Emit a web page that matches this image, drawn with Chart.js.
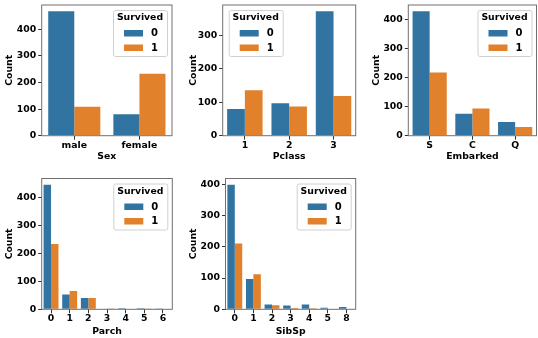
<!DOCTYPE html>
<html>
<head>
<meta charset="utf-8">
<script src="https://cdn.jsdelivr.net/npm/chart.js@4.4.1/dist/chart.umd.min.js"></script>
<style>
  html, body { margin: 0; padding: 0; background: #fff; }
  #wrap { position: relative; width: 538px; height: 338px; overflow: hidden; }
  canvas { position: absolute; }
</style>
</head>
<body>
<div id="wrap"></div>
<script>
// Titanic counts by feature, split by Survived (0 / 1)
const survivedLabels = ['0', '1'];

const sexCats = ['male', 'female'];
const sexDied = [468, 81];
const sexSurv = [109, 233];

const pclassCats = ['1', '2', '3'];
const pclassDied = [80, 97, 372];
const pclassSurv = [136, 87, 119];

const embarkedCats = ['S', 'C', 'Q'];
const embarkedDied = [427, 75, 47];
const embarkedSurv = [217, 93, 30];

const parchCats = ['0', '1', '2', '3', '4', '5', '6'];
const parchDied = [445, 53, 40, 2, 4, 4, 1];
const parchSurv = [233, 65, 40, 3, 0, 1, 0];

const sibspCats = ['0', '1', '2', '3', '4', '5', '8'];
const sibspDied = [398, 97, 15, 12, 15, 5, 7];
const sibspSurv = [210, 112, 13, 4, 3, 0, 0];

const yTicks = [0, 100, 200, 300, 400];

const BLUE = '#3274a1';
const ORANGE = '#e1812c';
const FONT = 'DejaVu Sans';
const FS = 9.3;

// canvas box [x, y, w, h], chart area [left, top, right, bottom], x of the "Count" title
const panels = [
    { title: 'Sex', cats: sexCats, died: sexDied, surv: sexSurv,
      box: [0, 0, 178, 162], area: [41.7, 5, 172, 135.7], countX: 10, legend: 'right' },
    { title: 'Pclass', cats: pclassCats, died: pclassDied, surv: pclassSurv,
      box: [182, 0, 180, 162], area: [222.7, 5, 355.7, 135.7], countX: 193.3, legend: 'left' },
    { title: 'Embarked', cats: embarkedCats, died: embarkedDied, surv: embarkedSurv,
      box: [366, 0, 172, 162], area: [408.3, 5, 536.5, 135.7], countX: 376.7, legend: 'right' },
    { title: 'Parch', cats: parchCats, died: parchDied, surv: parchSurv,
      box: [0, 170, 178, 167], area: [41.7, 178.5, 172.3, 309.3], countX: 10, legend: 'right' },
    { title: 'SibSp', cats: sibspCats, died: sibspDied, surv: sibspSurv,
      box: [182, 170, 180, 167], area: [225.5, 178.5, 355.7, 309.3], countX: 193.3, legend: 'right' }
];

const framePlugin = {
    id: 'frame',
    afterDatasetsDraw(chart) {
        const { ctx, chartArea: a } = chart;
        ctx.save();
        ctx.strokeStyle = '#707070';
        ctx.lineWidth = 1;
        ctx.strokeRect(a.left, a.top, a.right - a.left, a.bottom - a.top);
        ctx.restore();
    }
};

const legendPlugin = {
    id: 'boxLegend',
    afterDraw(chart, args, opts) {
        const { ctx, chartArea: a } = chart;
        const w = 54, h = 46;
        const x = opts.side === 'left' ? a.left + 6 : a.right - 5 - w;
        const y = a.top + 5;
        ctx.save();
        ctx.fillStyle = 'rgba(255,255,255,0.85)';
        ctx.strokeStyle = '#d0d0d0';
        ctx.lineWidth = 1;
        ctx.beginPath();
        ctx.roundRect(x + 0.5, y + 0.5, w, h, 2);
        ctx.fill();
        ctx.stroke();
        ctx.fillStyle = '#000';
        ctx.textBaseline = 'middle';
        ctx.font = 'bold ' + FS + 'px "' + FONT + '"';
        ctx.textAlign = 'center';
        ctx.fillText('Survived', x + w / 2, y + 8);
        const colors = [BLUE, ORANGE];
        survivedLabels.forEach((lab, i) => {
            const cy = y + 23 + i * 14.5;
            ctx.fillStyle = colors[i];
            ctx.fillRect(x + 11, cy - 3, 19, 6.5);
            ctx.fillStyle = '#000';
            ctx.textAlign = 'left';
            ctx.font = 'bold 10px "' + FONT + '"';
            ctx.fillText(lab, x + 38, cy + 0.5);
        });
        ctx.restore();
    }
};

const wrap = document.getElementById('wrap');

panels.forEach(p => {
    const [cx, cy, cw, ch] = p.box;
    const [L, T, R, B] = p.area;
    const canvas = document.createElement('canvas');
    canvas.style.left = cx + 'px';
    canvas.style.top = cy + 'px';
    canvas.style.width = cw + 'px';
    canvas.style.height = ch + 'px';
    canvas.width = cw;
    canvas.height = ch;
    wrap.appendChild(canvas);

    const halfLine = FS * 1.2 / 2;
    const padLeft = p.countX - cx - halfLine;
    const yMax = Math.max(...p.died, ...p.surv) * 1.05;
    const font = { family: FONT, size: FS, weight: 'bold', lineHeight: 1.2 };

    new Chart(canvas.getContext('2d'), {
        type: 'bar',
        data: {
            labels: p.cats,
            datasets: [
                { label: survivedLabels[0], data: p.died, backgroundColor: BLUE, borderWidth: 0 },
                { label: survivedLabels[1], data: p.surv, backgroundColor: ORANGE, borderWidth: 0 }
            ]
        },
        options: {
            responsive: false,
            animation: false,
            devicePixelRatio: 1,
            layout: { padding: { left: padLeft, top: T - cy, right: cx + cw - R, bottom: 0 } },
            datasets: { bar: { categoryPercentage: 0.8, barPercentage: 1.0 } },
            scales: {
                x: {
                    grid: { display: true, drawOnChartArea: false, drawTicks: true, tickLength: 4,
                            offset: false, color: '#333' },
                    border: { display: false },
                    ticks: { color: '#000', font: font, padding: 0, maxRotation: 0, autoSkip: false },
                    title: { display: true, text: p.title, color: '#000', font: font, padding: 0 },
                    afterFit(scale) {
                        scale.height = ch - (B - cy);
                        scale.paddingLeft = 0;
                        scale.paddingRight = 0;
                    }
                },
                y: {
                    min: 0,
                    max: yMax,
                    grid: { display: true, drawOnChartArea: false, drawTicks: true, tickLength: 3.5, color: '#333' },
                    border: { display: false },
                    ticks: { color: '#000', font: font, padding: 2 },
                    title: { display: true, text: 'Count', color: '#000', font: font, padding: 0 },
                    afterBuildTicks(scale) {
                        scale.ticks = yTicks.filter(v => v <= scale.max).map(v => ({ value: v }));
                    },
                    afterFit(scale) {
                        scale.width = L - cx - padLeft;
                        scale.paddingTop = 0;
                        scale.paddingBottom = 0;
                    }
                }
            },
            plugins: {
                legend: { display: false },
                tooltip: { enabled: false },
                boxLegend: { side: p.legend }
            }
        },
        plugins: [framePlugin, legendPlugin]
    });
});
</script>
</body>
</html>
